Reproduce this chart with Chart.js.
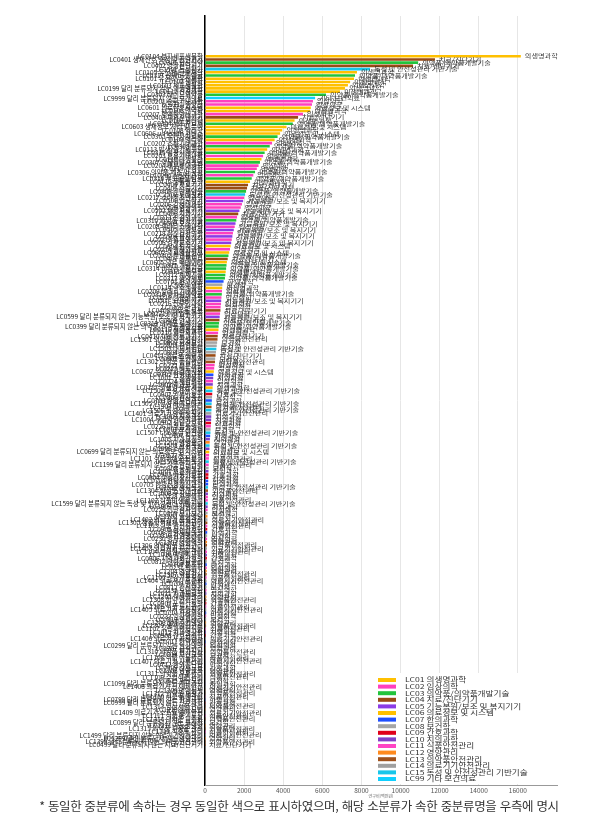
<!DOCTYPE html>
<html lang="ko">
  <head>
    <meta charset="utf-8" />
    <title>소분류별 연구비</title>
    <style>
      body { margin: 0; background: #fff; font-family: "Noto Sans CJK KR", sans-serif; }
      #wrap { position: relative; width: 606px; height: 800px; }
      #note {
        position: absolute; left: -4px; top: 796px; width: 606px;
        text-align: center; font-size: 12.5px; color: #333; letter-spacing: -0.32px;
      }
    </style>
  </head>
  <body>
    <div id="wrap">
      <canvas id="myChart"></canvas>
    </div>
    <div id="note">* 동일한 중분류에 속하는 경우 동일한 색으로 표시하였으며, 해당 소분류가 속한 중분류명을 우측에 명시</div>

    <script src="https://cdn.jsdelivr.net/npm/chart.js"></script>
    <script>
      // 중분류 (legend)
      const midCodes = ['LC01', 'LC02', 'LC03', 'LC04', 'LC05', 'LC06', 'LC07', 'LC08',
        'LC09', 'LC10', 'LC11', 'LC12', 'LC13', 'LC14', 'LC15', 'LC99'];
      const midNames = ['의생명과학', '임상의학', '의약품/의약품개발기술', '치료/진단기기',
        '기능복원/보조 및 복지기기', '의료정보 및 시스템', '한의과학', '보건학', '간호과학',
        '치의과학', '식품안전관리', '영양관리', '의약품안전관리', '의료기기안전관리',
        '독성 및 안전성관리 기반기술', '기타 보건의료'];
      const midColors = ['#FFC000', '#FF40BE', '#22C43C', '#9A4B14', '#8B3CE6', '#FFC000',
        '#1F4FFF', '#A6A6A6', '#E0001A', '#8040C8', '#FF44C4', '#FF8A1E', '#A0521C',
        '#A0A0A0', '#18C6EA', '#10CFFF'];

      // 소분류 (sorted by funding)
      const subLabels = [
        'LC0104 분자세포생물학', 'LC0401 생체신호 측정 및 진단기기', 'LC0301 합성신약', 'LC0402 영상진단기기',
        'LC1501 독성평가', 'LC0105 유전체/단백체학', 'LC0317 신약타겟 발굴', 'LC0101 유전학/유전체학',
        'LC0102 생화학', 'LC0103 세포생물학', 'LC0199 달리 분류되지 않는 의생명과학', 'LC0112 신경과학',
        'LC0303 바이오의약품', 'LC9999 달리 분류되지 않는 보건의료', 'LC0201 순환기내과학', 'LC0211 종양학',
        'LC0601 의료정보시스템', 'LC0106 면역학', 'LC0207 혈액종양내과학', 'LC0403 체외진단기기',
        'LC0107 생리학', 'LC0304 세포치료제', 'LC0603 생체정보 처리 및 분석', 'LC0108 약리학',
        'LC0606 u-Health 서비스', 'LC0305 유전자치료제', 'LC0109 병리학', 'LC0202 소화기내과학',
        'LC0308 백신', 'LC0113 발생/줄기세포학', 'LC0315 임상시험기술', 'LC0203 호흡기내과학',
        'LC0110 미생물학', 'LC0307 약물전달시스템', 'LC0204 내분비내과학', 'LC0219 신경학',
        'LC0306 의약품 제조 및 공정', 'LC0205 신장내과학', 'LC0316 후보물질 탐색', 'LC0115 생물정보학',
        'LC0404 치료기기', 'LC0405 수술기기', 'LC0309 진단의약품', 'LC1502 위해평가',
        'LC0217 소아청소년과학', 'LC0501 인공장기', 'LC0206 감염내과학', 'LC0225 영상의학',
        'LC0502 재활치료기기', 'LC0406 치과기기', 'LC0213 신경외과학', 'LC0310 의약품 평가기술',
        'LC0503 보조기기', 'LC0208 류마티스내과학', 'LC0505 신경보철', 'LC0218 정신건강의학',
        'LC0504 복지기기', 'LC0212 흉부외과학', 'LC0506 감각보조기기', 'LC0604 원격의료',
        'LC0214 정형외과학', 'LC0602 의료영상정보', 'LC0302 천연물신약', 'LC0407 생체재료',
        'LC0605 의료 빅데이터', 'LC0311 개량신약', 'LC0314 비임상시험기술', 'LC0111 해부학',
        'LC0312 제제기술', 'LC0313 생약제제', 'LC0701 한의기초', 'LC0801 역학',
        'LC0114 구조생물학', 'LC0209 알레르기내과학', 'LC0318 방사성의약품', 'LC0215 성형외과학',
        'LC0507 노인용 기기', 'LC0216 산부인과학', 'LC0220 안과학', 'LC0408 의료용 로봇',
        'LC0221 이비인후과학', 'LC0599 달리 분류되지 않는 기능복원/보조 및 복지기기', 'LC0409 안과기기', 'LC0319 의약품 설계기술',
        'LC0399 달리 분류되지 않는 의약품/의약품개발기술', 'LC0116 실험동물학', 'LC0210 일반외과학', 'LC0410 이비인후과기기',
        'LC1301 의약품 안전성평가', 'LC0802 환경보건', 'LC0803 산업보건', 'LC1503 대체시험법',
        'LC0804 보건정책', 'LC0411 의료용 레이저', 'LC0805 보건통계', 'LC1302 의약품 품질관리',
        'LC0222 피부과학', 'LC0223 비뇨의학', 'LC0607 임상의사결정지원', 'LC0702 한방내과학',
        'LC1001 구강생물학', 'LC0224 재활의학', 'LC1002 치과보철학', 'LC0117 의생명 융합기술',
        'LC1504 독성기전 연구', 'LC0901 기본간호학', 'LC0806 건강증진', 'LC0703 한방부인과학',
        'LC1505 안전성 바이오마커', 'LC1303 마약류관리', 'LC1506 독성정보 관리', 'LC1401 의료기기 안전성평가',
        'LC1003 치주과학', 'LC1004 구강악안면외과학', 'LC0902 성인간호학', 'LC0226 마취통증의학',
        'LC0807 보건경제', 'LC1507 나노물질 안전성', 'LC0707 침구학', 'LC1005 치과교정학',
        'LC1201 영양생리', 'LC1508 환경독성', 'LC1006 소아치과학', 'LC0699 달리 분류되지 않는 의료정보 및 시스템',
        'LC0227 응급의학', 'LC1101 식품위해요소 분석', 'LC1509 유전독성', 'LC1199 달리 분류되지 않는 식품안전관리',
        'LC0808 국제보건', 'LC1007 보존치과학', 'LC0903 아동간호학', 'LC0904 여성건강간호학',
        'LC0704 한방소아과학', 'LC0705 한방신경정신과학', 'LC1510 생식독성', 'LC1304 화장품 안전관리',
        'LC1008 구강내과학', 'LC0228 가정의학', 'LC1102 식품미생물 관리', 'LC1599 달리 분류되지 않는 독성 및 안전성관리 기반기술',
        'LC1009 구강병리학', 'LC0229 진단검사의학', 'LC0809 모자보건', 'LC1202 임상영양',
        'LC1402 의료기기 품질관리', 'LC1305 생물학적제제 안전관리', 'LC1103 식품 안전성평가', 'LC0905 정신간호학',
        'LC0706 한방재활의학', 'LC0810 감염병관리', 'LC0230 방사선종양학', 'LC1203 영양역학',
        'LC1306 의약외품 안전관리', 'LC1403 의료기기 허가심사', 'LC1104 식품첨가물 관리', 'LC1010 예방치과학',
        'LC0906 지역사회간호학', 'LC0811 만성질환관리', 'LC0708 본초학', 'LC0231 핵의학',
        'LC1204 영양평가', 'LC1307 약물감시', 'LC1105 건강기능식품', 'LC1404 의료기기 표준화',
        'LC0709 방제학', 'LC0812 정신보건', 'LC0232 노인의학', 'LC1011 치과재료학',
        'LC1205 식생활관리', 'LC1308 한약 안전관리', 'LC0907 노인간호학', 'LC1106 식품 표시관리',
        'LC1405 의료기기 성능평가', 'LC0710 사상의학', 'LC0233 임상약리학', 'LC0813 의료관리',
        'LC1206 생애주기영양', 'LC1309 생약 안전관리', 'LC1107 유전자변형식품', 'LC1012 치과영상학',
        'LC0908 간호관리학', 'LC1406 의료기기 시험검사', 'LC0711 한약제제', 'LC0299 달리 분류되지 않는 임상의학',
        'LC1207 급식관리', 'LC1310 의약품 허가심사', 'LC0814 보건교육', 'LC1108 식품 이물관리',
        'LC1407 의료기기 사후관리', 'LC0712 한의진단학', 'LC0909 간호교육', 'LC1208 영양교육',
        'LC1311 의약품 유통관리', 'LC1109 수입식품 관리', 'LC0815 재난보건', 'LC1099 달리 분류되지 않는 치의과학',
        'LC1408 의료기기 전자파 안전', 'LC1209 영양정책', 'LC1312 의약품 재평가', 'LC1110 식품 위생관리',
        'LC0799 달리 분류되지 않는 한의과학', 'LC0999 달리 분류되지 않는 간호과학', 'LC1313 임상시험 관리', 'LC1210 식사요법',
        'LC1409 의료기기 소프트웨어 안전', 'LC1111 식품 용기포장', 'LC1314 의약품 표준화', 'LC0899 달리 분류되지 않는 보건학',
        'LC1211 기능성영양', 'LC1315 의약품 부작용 관리', 'LC1112 식중독 관리', 'LC1499 달리 분류되지 않는 의료기기안전관리',
        'LC1299 달리 분류되지 않는 영양관리', 'LC1399 달리 분류되지 않는 의약품안전관리', 'LC0499 달리 분류되지 않는 치료/진단기기'
      ];

      // 연구비 (백만원)
      const funding = [
        16150, 11760, 10900, 10640, 8440, 7770, 7670, 7620, 7420, 7310,
        7160, 6900, 6190, 5630, 5520, 5470, 5410, 5380, 5010, 4760,
        4580, 4490, 4170, 3950, 3840, 3710, 3560, 3430, 3310, 3180,
        3050, 2970, 2890, 2810, 2740, 2650, 2560, 2470, 2390, 2300,
        2200, 2150, 2100, 2050, 2000, 1950, 1890, 1830, 1760, 1700,
        1640, 1600, 1560, 1520, 1470, 1430, 1400, 1370, 1340, 1310,
        1280, 1240, 1200, 1160, 1120, 1100, 1080, 1060, 1040, 1020,
        950, 890, 880, 870, 860, 840, 830, 820, 800, 790,
        770, 750, 740, 720, 700, 690, 670, 650, 640, 620,
        600, 580, 560, 540, 520, 510, 490, 470, 450, 430,
        420, 410, 400, 390, 380, 370, 360, 350, 340, 335,
        330, 325, 320, 315, 310, 300, 290, 280, 265, 250,
        240, 235, 230, 220, 210, 200, 195, 190, 185, 180,
        175, 170, 166, 162, 158, 154, 150, 146, 143, 140,
        137, 134, 131, 128, 125, 122, 119, 116, 113, 110,
        108, 106, 104, 102, 100, 98, 96, 94, 92, 90,
        88, 86, 84, 82, 80, 78, 76, 74, 72, 71,
        70, 68, 66, 64, 62, 60, 58, 56, 54, 52,
        50, 47, 44, 41, 38, 35, 33, 31, 29, 27,
        25, 24, 23, 22, 21, 20, 19, 18, 17, 16,
        15, 14, 13, 12, 11, 10, 9, 8, 7, 6,
        5, 4, 3, 2, 1
      ];

      const FONT = '"Noto Sans CJK KR", sans-serif';
      Chart.defaults.font.family = FONT;

      function midIndex(label) {
        return midCodes.indexOf(label.slice(0, 4));
      }

      // text in the source is stretched sideways, so draw it wider than tall
      function wideText(ctx, text, x, y, sx) {
        ctx.save();
        ctx.translate(x, y);
        ctx.scale(sx, 1);
        ctx.fillText(text, 0, 0);
        ctx.restore();
      }

      // 중분류 name to the right of each bar
      const barNames = {
        id: 'barNames',
        afterDatasetsDraw(chart) {
          const ctx = chart.ctx;
          const meta = chart.getDatasetMeta(0);
          ctx.save();
          ctx.font = '5.5px ' + FONT;
          ctx.fillStyle = '#333';
          ctx.textBaseline = 'middle';
          meta.data.forEach((bar, i) => {
            wideText(ctx, midNames[midIndex(subLabels[i])], bar.x + 4, bar.y, 1.3);
          });
          ctx.restore();
        }
      };

      // legend box inside the plot, bottom right
      const boxLegend = {
        id: 'boxLegend',
        afterDraw(chart) {
          const ctx = chart.ctx;
          ctx.save();
          ctx.fillStyle = '#fff';
          ctx.fillRect(372, 673, 208, 111);
          ctx.font = '6.5px ' + FONT;
          ctx.textBaseline = 'middle';
          midCodes.forEach((code, i) => {
            const y = 680 + i * 6.6;
            ctx.fillStyle = midColors[i];
            ctx.fillRect(378, y - 2, 18, 4);
            ctx.fillStyle = '#333';
            wideText(ctx, code + ' ' + midNames[i], 405, y, 1.33);
          });
          ctx.restore();
        }
      };

      const data = {
        datasets: [
          {
            label: '연구비',
            data: subLabels.map((l, i) => ({ x: funding[i], y: i })),
            backgroundColor: subLabels.map((l) => midColors[midIndex(l)]),
            barPercentage: 0.8,
            categoryPercentage: 1,
          },
        ],
      };

      const config = {
        type: 'bar',
        data: data,
        options: {
          indexAxis: 'y',
          responsive: true,
          maintainAspectRatio: false,
          animation: false,
          layout: { padding: { left: 5, right: 49, top: 16, bottom: 1 } },
          plugins: { legend: { display: false }, tooltip: { enabled: false } },
          scales: {
            y: {
              type: 'linear',
              reverse: true,
              min: -12,
              max: 226,
              grid: { display: false, drawTicks: false },
              border: { color: '#000', width: 1.5 },
              afterFit(scale) { scale.width = 200; },
              ticks: {
                stepSize: 1,
                autoSkip: false,
                padding: 2,
                color: '#222',
                font: { size: 6.5 },
                callback: (v) => (Number.isInteger(v) && v >= 0 && v < subLabels.length ? subLabels[v] : ''),
              },
            },
            x: {
              min: 0,
              max: 18000,
              afterFit(scale) { scale.height = 14; },
              grid: {
                drawTicks: false,
                color: (c) => (c.tick && c.tick.value === 18000 ? 'rgba(0,0,0,0)' : '#e6e6e6'),
              },
              border: { color: '#999' },
              ticks: {
                stepSize: 2000,
                padding: 2,
                color: '#555',
                font: { size: 6.5 },
                callback: (v) => (v === 18000 ? '' : v),
              },
              title: { display: true, text: '연구비(백만원)', font: { size: 4 }, color: '#666', padding: 0 },
            },
          },
        },
        plugins: [barNames, boxLegend],
      };

      var myChart = new Chart(document.getElementById('myChart'), config);
    </script>
  </body>
</html>
